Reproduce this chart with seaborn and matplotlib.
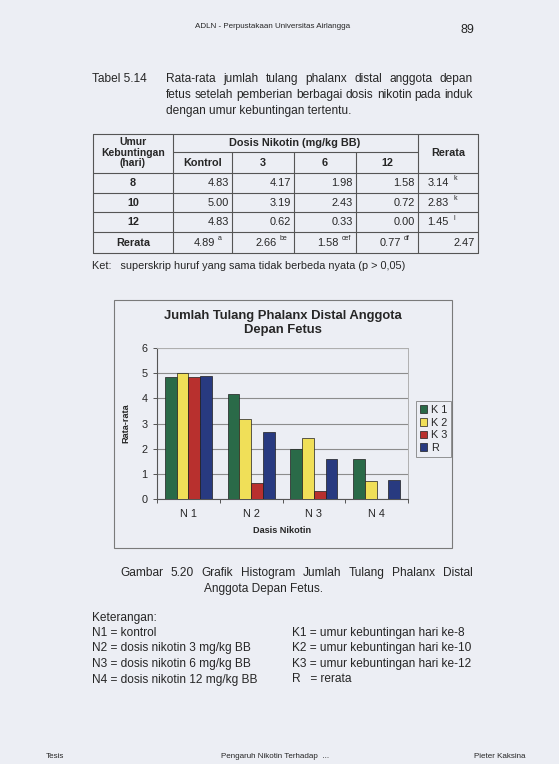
import numpy as np
import pandas as pd
import matplotlib
matplotlib.use("Agg")
import matplotlib.pyplot as plt
from matplotlib.patches import Rectangle
import seaborn as sns

# ---------------- data ----------------
groups = ["N 1", "N 2", "N 3", "N 4"]
series = ["K 1", "K 2", "K 3", "R"]
k1 = [4.83, 4.17, 1.98, 1.58]
k2 = [5.00, 3.19, 2.43, 0.72]
k3 = [4.83, 0.62, 0.33, 0.00]
rr = [4.89, 2.66, 1.58, 0.77]
yticks = [0, 1, 2, 3, 4, 5, 6]

row_labels = ["8", "10", "12", "Rerata"]
col_labels = ["Kontrol", "3", "6", "12"]
rerata_col = [3.14, 2.83, 1.45, 2.47]
rerata_col_sup = ["k", "k", "l", ""]
rerata_row_sup = ["a", "be", "cef", "df"]

colors = ["#2a6a48", "#f0df58", "#b8302e", "#283a80"]

# ---------------- setup ----------------
sns.set_theme(style="white")
plt.rcParams["font.family"] = ["Liberation Sans", "DejaVu Sans"]
W, H = 559, 764
PAGE = "#eceef4"
INK = "#262626"
BODY = 8.6
fig = plt.figure(figsize=(W / 100, H / 100), dpi=100, facecolor=PAGE)
bg = fig.add_axes([0, 0, 1, 1])
bg.set_xlim(0, W)
bg.set_ylim(H, 0)
bg.axis("off")
bg.set_facecolor(PAGE)


def t(x, y, s, size=BODY, ha="left", va="center", weight="normal", **kw):
    return bg.text(x, y, s, fontsize=size, ha=ha, va=va, weight=weight, color=INK, **kw)


renderer = fig.canvas.get_renderer()


def justify(y, x0, x1, text, size=BODY):
    words = text.split()
    objs = [t(0, y, w, size=size) for w in words]
    widths = []
    inv = bg.transData.inverted()
    for o in objs:
        bb = o.get_window_extent(renderer=renderer)
        (a, _), (b, _) = inv.transform([(bb.x0, bb.y0), (bb.x1, bb.y1)])
        widths.append(abs(b - a))
    gap = (x1 - x0 - sum(widths)) / max(len(words) - 1, 1)
    x = x0
    for o, w in zip(objs, widths):
        o.set_x(x)
        x += w + gap


# ---------------- header ----------------
t(273, 27, "ADLN - Perpustakaan Universitas Airlangga", size=5.8, ha="center")
t(467, 30, "89", size=9, ha="center")

t(92, 79, "Tabel 5.14")
justify(79, 166, 473, "Rata-rata jumlah tulang phalanx distal anggota depan")
justify(95, 166, 473, "fetus setelah pemberian berbagai dosis nikotin pada induk")
t(166, 111, "dengan umur kebuntingan tertentu.")

# ---------------- table ----------------
LC = "#555555"
xs = [93, 173, 232, 294, 356, 418, 478]
lw = 0.8
for y in [134, 173, 193, 212, 232, 253]:
    bg.plot([93, 478], [y, y], color=LC, lw=lw)
bg.plot([173, 418], [152, 152], color=LC, lw=lw)
for x in [93, 173, 418, 478]:
    bg.plot([x, x], [134, 253], color=LC, lw=lw)
for x in [232, 294, 356]:
    bg.plot([x, x], [152, 253], color=LC, lw=lw)

hs = 7.8
t(133, 142, "Umur", size=7.5, ha="center", weight="bold")
t(133, 152.5, "Kebuntingan", size=7.5, ha="center", weight="bold")
t(133, 163.5, "(hari)", size=7.5, ha="center", weight="bold")
t(295, 143, "Dosis Nikotin (mg/kg BB)", size=hs, ha="center", weight="bold")
t(448, 153, "Rerata", size=hs, ha="center", weight="bold")
for i, c in enumerate(col_labels):
    t((xs[i + 1] + xs[i + 2]) / 2, 163, c, size=hs, ha="center", weight="bold")

ns = 7.9
row_y = [183, 203, 222, 243]
table_vals = [k1, k2, k3, rr]
for ri, (lab, vals) in enumerate(zip(row_labels, table_vals)):
    y = row_y[ri]
    t(133, y, lab, size=hs, ha="center", weight="bold")
    for ci, v in enumerate(vals):
        right = xs[ci + 2]
        if ri == 3:
            t(right - 17, y, f"{v:.2f}", size=ns, ha="right")
            t(right - 14, y - 4, rerata_row_sup[ci], size=5)
        else:
            t(right - 3, y, f"{v:.2f}", size=ns, ha="right")
    if rerata_col_sup[ri]:
        t(449, y, f"{rerata_col[ri]:.2f}", size=ns, ha="right")
        t(453, y - 4, rerata_col_sup[ri], size=5)
    else:
        t(475, y, f"{rerata_col[ri]:.2f}", size=ns, ha="right")

t(92, 266, "Ket:   superskrip huruf yang sama tidak berbeda nyata (p > 0,05)", size=7.8)

# ---------------- chart ----------------
bg.add_patch(Rectangle((114, 300), 338, 248, fill=False, edgecolor="#7a7a7a", lw=0.8))
t(283, 316, "Jumlah Tulang Phalanx Distal Anggota", size=9.4, ha="center", weight="bold")
t(283, 330, "Depan Fetus", size=9.4, ha="center", weight="bold")

ax = fig.add_axes([157 / W, 1 - 499 / H, (408 - 157) / W, (499 - 348) / H])
ax.set_facecolor(PAGE)

rows = []
for s, vals in zip(series, [k1, k2, k3, rr]):
    for g, v in zip(groups, vals):
        rows.append({"Dosis": g, "Nilai": v, "Seri": s})
df = pd.DataFrame(rows)

sns.barplot(data=df, x="Dosis", y="Nilai", hue="Seri", order=groups, hue_order=series,
            palette=colors, width=0.75, gap=0, edgecolor="#1e1e1e", linewidth=0.5,
            saturation=1, ax=ax, zorder=3)

ax.set_ylim(0, 6)
ax.set_xlim(-0.5, 3.5)
ax.set_yticks(yticks)
ax.yaxis.grid(True, color="#8c8c8c", lw=0.8, zorder=0)
ax.set_axisbelow(True)
ax.tick_params(axis="y", labelsize=7.8, colors=INK, length=3, width=0.7, left=True, pad=4)
ax.tick_params(axis="x", which="major", labelsize=7.8, colors=INK, length=0, pad=7)
ax.set_xticks([-0.5, 0.5, 1.5, 2.5, 3.5], minor=True)
ax.tick_params(axis="x", which="minor", length=3, width=0.7, bottom=True, color="#555555")
ax.tick_params(axis="y", color="#555555")
for side in ["top", "right"]:
    ax.spines[side].set_color("#b0b0b0")
    ax.spines[side].set_linewidth(0.7)
for side in ["left", "bottom"]:
    ax.spines[side].set_color("#555555")
    ax.spines[side].set_linewidth(0.8)
ax.set_xlabel("Dasis Nikotin", fontsize=6.6, weight="bold", color=INK, labelpad=5)
ax.set_ylabel("Rata-rata", fontsize=6.6, weight="bold", color=INK, labelpad=8)

leg = ax.legend(loc="upper left", bbox_to_anchor=(416 / W, 1 - 401 / H),
                bbox_transform=fig.transFigure, fontsize=7.8, frameon=True,
                fancybox=False, handlelength=0.7, handleheight=0.7,
                handletextpad=0.3, labelspacing=0.25, borderpad=0.35,
                borderaxespad=0)
leg.get_frame().set_edgecolor("#7a7a7a")
leg.get_frame().set_linewidth(0.7)
leg.get_frame().set_facecolor(PAGE)
for txt in leg.get_texts():
    txt.set_color(INK)

# ---------------- figure caption ----------------
justify(573, 120, 473, "Gambar 5.20 Grafik Histogram Jumlah Tulang Phalanx Distal")
t(204, 589, "Anggota Depan Fetus.")

t(92, 618, "Keterangan:")
left_notes = ["N1 = kontrol", "N2 = dosis nikotin 3 mg/kg BB",
              "N3 = dosis nikotin 6 mg/kg BB", "N4 = dosis nikotin 12 mg/kg BB"]
right_notes = ["K1 = umur kebuntingan hari ke-8", "K2 = umur kebuntingan hari ke-10",
               "K3 = umur kebuntingan hari ke-12", "R   = rerata"]
for i, (a, b) in enumerate(zip(left_notes, right_notes)):
    y = 633 + i * 15.5
    t(92, y, a)
    t(292, y, b)

# ---------------- footer ----------------
t(46, 757, "Tesis", size=5.8, ha="left")
t(275, 757, "Pengaruh Nikotin Terhadap  ...", size=5.8, ha="center")
t(500, 757, "Pieter Kaksina", size=5.8, ha="center")

fig.savefig("out.png", dpi=100, facecolor=PAGE)
